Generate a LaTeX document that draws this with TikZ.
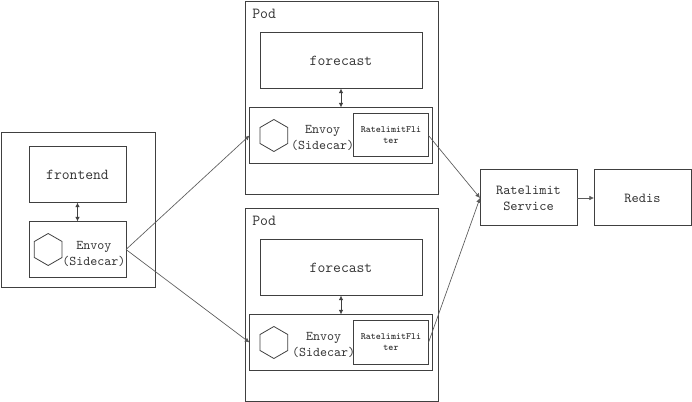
\documentclass[tikz,border=0pt]{standalone}
\usepackage{xcolor}
\usetikzlibrary{arrows.meta,positioning,shapes.geometric}
\definecolor{edgegray}{HTML}{404040}
\definecolor{linkgray}{HTML}{5A5A5A}
\definecolor{labelgray}{HTML}{333333}

\begin{document}
\begin{tikzpicture}[
    x=0.75pt,
    y=-0.75pt,
    node distance=14.25pt and 14.25pt,
    block/.style={
        draw=edgegray,
        line width=0.75pt,
        outer sep=0pt,
        align=center,
        text=labelgray,
        font=\ttfamily\fontsize{11.4}{14}\selectfont,
        minimum width=72.75pt,
        minimum height=42pt,
        inner sep=0pt
    },
    pod/.style={
        block,
        minimum width=144.75pt,
        minimum height=144.75pt
    },
    wide/.style={
        block,
        minimum width=121.5pt
    },
    envoybox/.style={
        block,
        minimum width=137.25pt
    },
    filterbox/.style={
        block,
        minimum width=56.25pt,
        minimum height=32.25pt,
        font=\ttfamily\bfseries\fontsize{7.2}{8.3}\selectfont
    },
    servicebox/.style={
        block,
        font=\ttfamily\fontsize{10.3}{12}\selectfont
    },
    hexagon/.style={
        draw=edgegray,
        line width=0.6pt,
        regular polygon,
        regular polygon sides=6,
        shape border rotate=30,
        minimum size=24pt,
        inner sep=0pt,
        outer sep=0pt
    },
    sidecar/.style={
        align=center,
        inner sep=0pt,
        text=labelgray,
        font=\ttfamily\fontsize{10}{12}\selectfont
    },
    podlabel/.style={
        inner sep=0pt,
        text=labelgray,
        font=\ttfamily\fontsize{11.5}{14}\selectfont
    },
    biline/.style={{Latex[length=3.5pt,width=3.5pt]}-{Latex[length=3.5pt,width=3.5pt]}, line width=0.75pt, edgegray},
    line/.style={-{Latex[length=3.5pt,width=3.5pt]}, line width=0.5pt, linkgray}
]
\useasboundingbox (0,0) rectangle (692,402);

% ---- Frontend side ----
\node[block, minimum width=115.5pt, minimum height=116.25pt] (holder) at (78,210) {};
\node[block] (frontend) at (77.5,174.5) {frontend};
\node[block, below=of frontend] (frontproxy) {};
\node[hexagon, right=4pt of frontproxy.west, anchor=west] (fronthex) {};
\node[sidecar, right=0pt of fronthex, yshift=-3.5pt] (frontname) {Envoy\\(Sidecar)};

% ---- Upper pod ----
\node[pod] (podup) at (342,98) {};
\node[podlabel, anchor=north west] (podupname) at (252,8.5) {Pod};
\node[wide] (forecastup) at (341,60.5) {forecast};
\node[envoybox, below=of forecastup] (proxyup) {};
\node[hexagon, right=7.9pt of proxyup.west, anchor=west] (hexup) {};
\node[sidecar, right=2.4pt of hexup, yshift=-1.5pt] (nameup) {Envoy\\(Sidecar)};
\node[filterbox, left=3pt of proxyup.east, anchor=east] (filterup) {RatelimitFli\\ter};

% ---- Lower pod ----
\node[pod] (poddown) at (342,305) {};
\node[podlabel, anchor=north west] (poddownname) at (252,215.5) {Pod};
\node[wide] (forecastdown) at (341,267.5) {forecast};
\node[envoybox, below=of forecastdown] (proxydown) {};
\node[hexagon, right=7.9pt of proxydown.west, anchor=west] (hexdown) {};
\node[sidecar, right=3pt of hexdown, yshift=-1.5pt] (namedown) {Envoy\\(Sidecar)};
\node[filterbox, left=3pt of proxydown.east, anchor=east] (filterdown) {RatelimitFli\\ter};

% ---- Services ----
\node[servicebox] (service) at (528.5,198) {Ratelimit\\Service};
\node[servicebox, right=12.75pt of service] (redis) {Redis};

% ---- Connections ----
\draw[biline] (frontend) -- (frontproxy);
\draw[biline] (forecastup) -- (proxyup);
\draw[biline] (forecastdown) -- (proxydown);

\draw[line] (frontproxy.east) -- (proxyup.west);
\draw[line] (frontproxy.east) -- (proxydown.west);

\draw[line] (filterup.east) -- (service.west);
\draw[line] (filterdown.east) -- (service.west);

\draw[line] (service) -- (redis);

\end{tikzpicture}
\end{document}
